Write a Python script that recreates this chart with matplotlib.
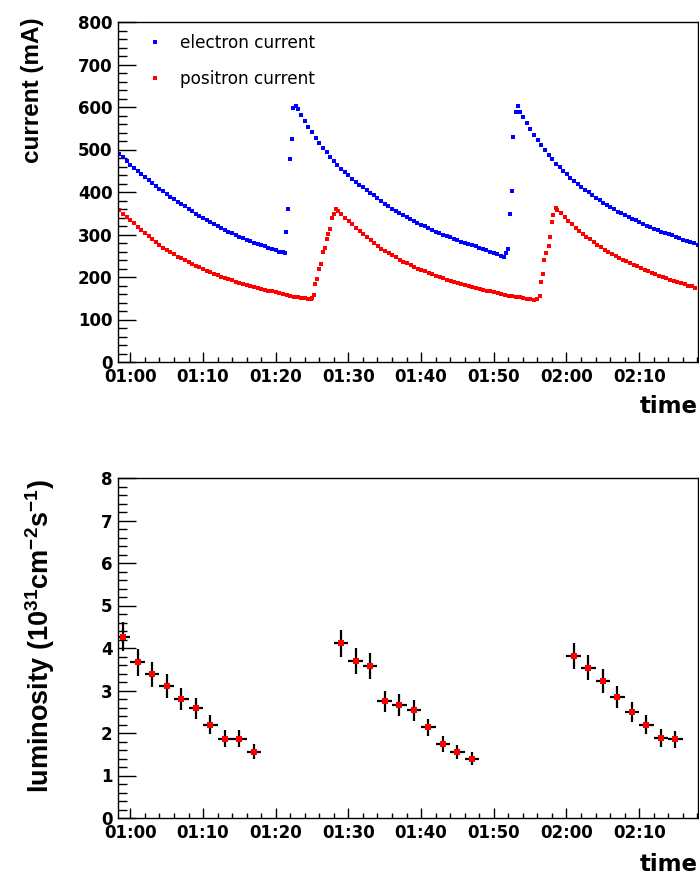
import numpy as np
import matplotlib
matplotlib.use("Agg")
import matplotlib.pyplot as plt
from matplotlib.ticker import MultipleLocator, FuncFormatter

plt.rcParams['font.family'] = ['DejaVu Sans']
plt.rcParams['font.weight'] = 'bold'
plt.rcParams['mathtext.fontset'] = 'custom'
plt.rcParams['mathtext.rm'] = 'Liberation Sans:bold'
plt.rcParams['mathtext.it'] = 'Liberation Sans:bold'
plt.rcParams['mathtext.bf'] = 'Liberation Sans:bold'
plt.rcParams['mathtext.default'] = 'rm'

# ---------------- data (time in minutes after 01:00) ----------------
STEP = 0.5
# electron current (mA)
e_decay0_start = -1.5
e_decay0 = [490, 482, 474, 464, 456, 449, 442, 436, 429, 422,
            415, 408, 402, 395, 389, 383, 377, 371, 366, 360,
            355, 349, 344, 339, 334, 329, 324, 320, 316, 311,
            307, 303, 299, 295, 291, 288, 285, 281, 278, 275,
            272, 269, 266, 263, 260, 258]
e_inj1_t = [21.3, 21.45, 21.65, 21.97, 22.3, 22.4, 22.8]
e_inj1 = [256, 307, 359, 477, 525, 597, 603]
e_decay1_start = 23.0
e_decay1 = [595, 581, 567, 554, 541, 528, 516, 504, 493, 482,
            472, 463, 455, 447, 439, 431, 424, 417, 411, 404,
            398, 392, 386, 379, 372, 366, 361, 355, 350, 345,
            341, 336, 332, 328, 323, 319, 315, 311, 307, 303,
            300, 296, 293, 290, 287, 283, 280, 277, 275, 272,
            269, 266, 263, 260, 257, 254, 250]
e_inj2_t = [51.35, 51.7, 52.0, 52.2, 52.5, 52.7, 53.0, 53.3]
e_inj2 = [248, 256, 266, 349, 402, 530, 589, 603]
e_decay2_start = 53.55
e_decay2 = [589, 576, 562, 548, 535, 522, 510, 498, 487, 477,
            467, 458, 450, 442, 434, 426, 419, 412, 405, 399,
            393, 387, 381, 375, 369, 364, 359, 354, 350, 345,
            341, 337, 333, 329, 325, 321, 318, 314, 311, 307,
            304, 301, 298, 294, 291, 288, 285, 282, 279, 276]

# positron current (mA)
p_decay0_start = -1.5
p_decay0 = [357, 349, 342, 334, 326, 318, 311, 303, 296, 289,
            282, 275, 269, 263, 258, 253, 248, 244, 240, 235,
            231, 227, 223, 219, 215, 211, 207, 204, 201, 198,
            195, 192, 189, 186, 184, 181, 179, 176, 174, 172,
            170, 168, 166, 164, 162, 160, 158, 156, 154, 153,
            151, 150, 149]
p_inj1_t = [24.8, 24.96, 25.28, 25.41, 25.73, 25.92, 26.24, 26.56, 26.75,
            27.02, 27.16, 27.48, 27.8, 28.03, 28.3]
p_inj1 = [148, 150, 157, 183, 195, 219, 231, 258, 269, 290, 302, 313, 339, 348, 361]
p_decay1_start = 28.55
p_decay1 = [356, 348, 340, 332, 324, 316, 309, 301, 294, 287,
            280, 273, 267, 261, 256, 251, 246, 241, 236, 232,
            228, 224, 220, 216, 213, 209, 206, 203, 200, 197,
            194, 191, 188, 186, 183, 181, 178, 176, 174, 172,
            170, 168, 166, 164, 162, 160, 158, 156, 155, 153,
            152, 150, 149, 148]
p_inj2_t = [55.5, 55.95, 56.3, 56.5, 56.8, 56.95, 57.2, 57.55, 57.7, 58.0, 58.15, 58.5]
p_inj2 = [146, 148, 155, 189, 207, 240, 256, 274, 293, 329, 347, 363]
p_decay2_start = 58.75
p_decay2 = [358, 350, 341, 332, 324, 316, 309, 302, 295, 289,
            282, 276, 270, 264, 259, 254, 250, 245, 241, 237,
            233, 229, 225, 221, 217, 214, 210, 207, 203, 200,
            197, 194, 191, 188, 185, 183, 180, 178, 175]

# luminosity (1e31 cm^-2 s^-1), 2-minute bins
lum_t = [-1, 1, 3, 5, 7, 9, 11, 13, 15, 17,
         29, 31, 33, 35, 37, 39, 41, 43, 45, 47,
         61, 63, 65, 67, 69, 71, 73, 75]
lum = [4.27, 3.66, 3.38, 3.11, 2.79, 2.58, 2.20, 1.87, 1.87, 1.56,
       4.11, 3.69, 3.58, 2.75, 2.66, 2.53, 2.13, 1.74, 1.55, 1.40,
       3.81, 3.54, 3.22, 2.85, 2.50, 2.20, 1.88, 1.85]
lum_err = [0.35, 0.31, 0.29, 0.29, 0.26, 0.24, 0.22, 0.20, 0.20, 0.17,
           0.31, 0.31, 0.30, 0.25, 0.25, 0.24, 0.21, 0.19, 0.16, 0.16,
           0.31, 0.30, 0.28, 0.26, 0.24, 0.22, 0.21, 0.20]
lum_xerr = [1.0] * len(lum_t)

legend_labels = ["electron current", "positron current"]
x_range = (-1.7, 78.1)


def seg(start, vals):
    return list(start + STEP * np.arange(len(vals))), list(vals)


def series(parts):
    t, v = [], []
    for pt, pv in parts:
        t += list(pt)
        v += list(pv)
    return np.array(t), np.array(v)


e_t, e_v = series([seg(e_decay0_start, e_decay0), (e_inj1_t, e_inj1),
                   seg(e_decay1_start, e_decay1), (e_inj2_t, e_inj2),
                   seg(e_decay2_start, e_decay2)])
p_t, p_v = series([seg(p_decay0_start, p_decay0), (p_inj1_t, p_inj1),
                   seg(p_decay1_start, p_decay1), (p_inj2_t, p_inj2),
                   seg(p_decay2_start, p_decay2)])


def tfmt(m, pos):
    tot = 60 + int(round(m))
    return f"{tot // 60:02d}:{tot % 60:02d}"


W, H = 699, 875
fig = plt.figure(figsize=(W / 100, H / 100), dpi=100)
ax1 = fig.add_axes([118 / W, 1 - 362 / H, 580 / W, 340 / H])
ax2 = fig.add_axes([118 / W, 1 - 818 / H, 580 / W, 340 / H])

ax1.plot(e_t, e_v, ls='none', marker='s', ms=3.0, mew=0, color='#0000ff',
         label=legend_labels[0])
ax1.plot(p_t, p_v, ls='none', marker='s', ms=3.0, mew=0, color='#ff0000',
         label=legend_labels[1])
ax1.set_ylim(0, 800)
ax1.yaxis.set_major_locator(MultipleLocator(100))
ax1.yaxis.set_minor_locator(MultipleLocator(20))

ax2.errorbar(lum_t, lum, xerr=lum_xerr, yerr=lum_err, fmt='s', ms=4.6,
             mew=0, color='#ff0000', ecolor='black', elinewidth=1.6,
             capsize=0, zorder=3)
ax2.set_ylim(0, 8)
ax2.yaxis.set_major_locator(MultipleLocator(1))
ax2.yaxis.set_minor_locator(MultipleLocator(0.2))

for ax in (ax1, ax2):
    ax.set_xlim(*x_range)
    ax.xaxis.set_major_locator(MultipleLocator(10))
    ax.xaxis.set_minor_locator(MultipleLocator(2))
    ax.xaxis.set_major_formatter(FuncFormatter(tfmt))
    ax.tick_params(axis='x', which='major', direction='in', length=7.5,
                   width=1, labelsize=12, pad=4.5, top=False)
    ax.tick_params(axis='x', which='minor', direction='in', length=3.6,
                   width=1, top=False)
    ax.tick_params(axis='y', which='major', direction='in', length=13,
                   width=1, labelsize=12, pad=4, right=False)
    ax.tick_params(axis='y', which='minor', direction='in', length=6.5,
                   width=1, right=False)
    for s in ax.spines.values():
        s.set_linewidth(1.0)

leg = ax1.legend(loc='upper left', bbox_to_anchor=(0.049, 0.965),
                 frameon=False, borderpad=0, borderaxespad=0,
                 handlelength=1.0, handletextpad=1.0, labelspacing=1.05,
                 numpoints=1, markerscale=1.0,
                 prop={'family': 'DejaVu Sans', 'weight': 'normal', 'size': 12.2})

fig.text(33 / W, 1 - 17 / H, 'current (mA)', rotation=90, ha='center',
         va='top', family='Liberation Sans', weight='bold', size=17.5)
fig.text(40 / W, 1 - 479 / H, r'luminosity (10$^{31}$cm$^{-2}$s$^{-1}$)',
         rotation=90, ha='center', va='top', family='Liberation Sans',
         weight='bold', size=19.5)
fig.text(698 / W, 1 - 413 / H, 'time', ha='right', va='baseline',
         family='DejaVu Sans', weight='bold', size=16.5)
fig.text(698 / W, 1 - 871 / H, 'time', ha='right', va='baseline',
         family='DejaVu Sans', weight='bold', size=16.5)

fig.savefig('out.png', dpi=100)
